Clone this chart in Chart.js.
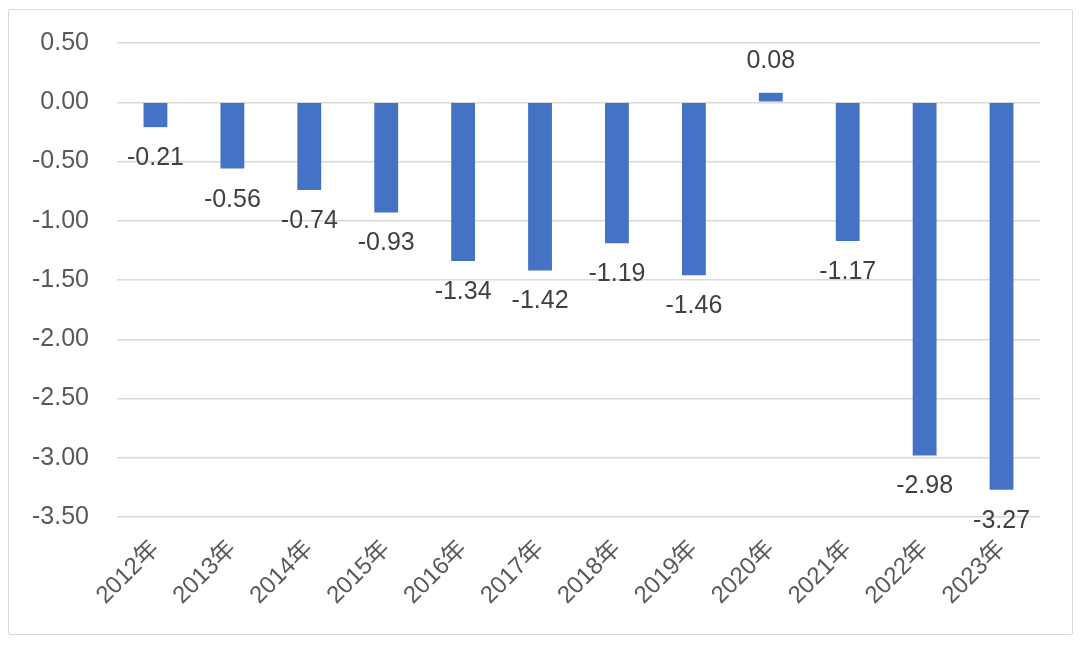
<!DOCTYPE html>
<html>
<head>
<meta charset="utf-8">
<script src="https://cdn.jsdelivr.net/npm/chart.js@4.4.1/dist/chart.umd.min.js"></script>
<style>
  html, body { margin: 0; padding: 0; background: #fff; }
  #wrap { position: relative; width: 1080px; height: 645px; }
  #frame {
    position: absolute; left: 8px; top: 9px; width: 1063px; height: 624px;
    border: 1.5px solid #d9d9d9; border-radius: 2px; pointer-events: none;
  }
  canvas { position: absolute; left: 0; top: 0; }
</style>
</head>
<body>
<div id="wrap">
  <canvas id="chart" width="1080" height="645"></canvas>
  <div id="frame"></div>
</div>
<script>
const years = ['2012年', '2013年', '2014年', '2015年', '2016年', '2017年',
  '2018年', '2019年', '2020年', '2021年', '2022年', '2023年'];
const values = [-0.21, -0.56, -0.74, -0.93, -1.34, -1.42, -1.19, -1.46, 0.08, -1.17, -2.98, -3.27];
const yMin = -3.5;
const yMax = 0.5;
const yStep = 0.5;

const fontFamily = '"Liberation Sans", "Noto Sans CJK SC", sans-serif';

// simple value labels, below negative bars and above positive ones
const barLabels = {
  id: 'barLabels',
  afterDatasetsDraw(chart) {
    const ctx = chart.ctx;
    const meta = chart.getDatasetMeta(0);
    ctx.save();
    ctx.font = `25px ${fontFamily}`;
    ctx.fillStyle = '#404040';
    ctx.textAlign = 'center';
    ctx.textBaseline = 'middle';
    meta.data.forEach((bar, i) => {
      const v = values[i];
      const text = v.toFixed(2);
      const y = v < 0 ? bar.y + 31 : bar.y - 32;
      ctx.fillText(text, bar.x, y);
    });
    ctx.restore();
  },
};

new Chart(document.getElementById('chart'), {
  type: 'bar',
  data: {
    labels: years,
    datasets: [
      {
        data: values,
        backgroundColor: '#4472c4',
        borderWidth: 0,
        categoryPercentage: 1,
        barPercentage: 0.31,
      },
    ],
  },
  options: {
    responsive: false,
    animation: false,
    layout: { padding: { left: 0, right: 40, top: 41, bottom: 0 } },
    plugins: { legend: { display: false }, tooltip: { enabled: false } },
    scales: {
      x: {
        grid: { display: false },
        border: { display: false },
        ticks: {
          color: '#595959',
          font: { size: 24, family: fontFamily },
          maxRotation: 45,
          minRotation: 45,
          padding: 10,
        },
        afterFit: (scale) => { scale.height = 128; },
      },
      y: {
        min: yMin,
        max: yMax,
        grid: { color: '#d9d9d9', lineWidth: 1.5, drawTicks: false },
        border: { display: false },
        ticks: {
          stepSize: yStep,
          color: '#595959',
          font: { size: 25, family: fontFamily },
          padding: 28,
          callback: (v) => Number(v).toFixed(2),
        },
        afterFit: (scale) => { scale.width = 117; },
      },
    },
  },
  plugins: [barLabels],
});
</script>
</body>
</html>
